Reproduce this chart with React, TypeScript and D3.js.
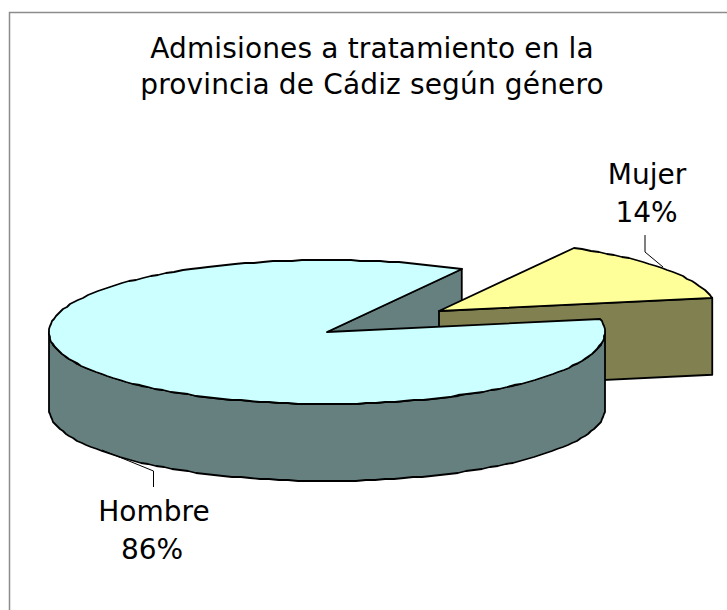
import React from "react";
import * as d3 from "d3";

const categories = ["Mujer", "Hombre"];
const shares = [14, 86];
const labels = ["14%", "86%"];
const topColors = ["#FFFF99", "#CCFFFF"];
const sideColors = ["#808050", "#668080"];
const titleLines = ["Admisiones a tratamiento en la", "provincia de Cádiz según género"];

const W = 727, H = 610;
const RX = 278, RY = 72, DEPTH = 77;
const centers = [{ x: 439, y: 311 }, { x: 327, y: 332 }];

// d3.pie angles: 0 at 12 o'clock, clockwise. Mujer starts at ~29deg.
const pieGen = d3.pie<number>().sort(null).startAngle((29 * Math.PI) / 180).endAngle((389 * Math.PI) / 180);
const arcs = pieGen(shares);

const pt = (c: { x: number; y: number }, a: number, dy = 0): [number, number] => [
  c.x + RX * Math.sin(a),
  c.y - RY * Math.cos(a) + dy,
];
const line = d3.line();
const sample = (c: { x: number; y: number }, a0: number, a1: number, dy = 0, step = 0.035) => {
  const n = Math.max(1, Math.round(Math.abs(a1 - a0) / step));
  return d3.range(n + 1).map((i) => {
    const p = pt(c, a0 + ((a1 - a0) * i) / n, dy);
    return [Math.round(p[0]), Math.round(p[1])] as [number, number];
  });
};

export default function App() {
  const m = arcs[0], h = arcs[1];
  const cm = centers[0], ch = centers[1];
  const c0: [number, number] = [cm.x, cm.y];
  const c1: [number, number] = [ch.x, ch.y];
  const mTop = [c0, ...sample(cm, m.startAngle, m.endAngle)];
  const mEnd = pt(cm, m.endAngle);
  const mFront: [number, number][] = [c0, mEnd, [mEnd[0], mEnd[1] + DEPTH], [c0[0], c0[1] + DEPTH]];
  const hStart = pt(ch, h.endAngle);
  const backWall: [number, number][] = [c1, hStart, [hStart[0], hStart[1] + DEPTH], [c1[0], c1[1] + DEPTH]];
  const hTop = [c1, ...sample(ch, h.startAngle, h.endAngle)];
  const a0 = Math.PI / 2, a1 = (3 * Math.PI) / 2;
  const hSide = [...sample(ch, a0, a1), ...sample(ch, a1, a0, DEPTH)];
  const stroke = { stroke: "#000", strokeWidth: 1.8, strokeLinejoin: "round" as const };
  return (
    <svg width={W} height={H} style={{ position: "absolute", left: 0, top: 0 }} fontFamily="'DejaVu Sans', Verdana, sans-serif">
      <rect x={0} y={0} width={W} height={H} fill="#fff" />
      <path d={`M9.5,${H}V12.5H${W}`} fill="none" stroke="#8c8c8c" strokeWidth={1.5} />
      {titleLines.map((t, i) => (
        <text key={t} x={372} y={58 + i * 35.5} textAnchor="middle" fontSize={28} letterSpacing={0.15} fill="#000">{t}</text>
      ))}
      <path d={line(backWall)! + "Z"} fill={sideColors[1]} {...stroke} />
      <path d={line(mFront)! + "Z"} fill={sideColors[0]} {...stroke} />
      <path d={line(mTop)! + "Z"} fill={topColors[0]} {...stroke} />
      <path d={line(hSide)! + "Z"} fill={sideColors[1]} {...stroke} />
      <path d={line(hTop)! + "Z"} fill={topColors[1]} {...stroke} />
      <path d="M645,235V252L663,267" fill="none" stroke="#000" strokeWidth={1} />
      <path d="M102,450L153.5,471V487" fill="none" stroke="#000" strokeWidth={1} />
      <text x={647} y={184} textAnchor="middle" fontSize={28}>{categories[0]}</text>
      <text x={646.5} y={222} textAnchor="middle" fontSize={28}>{labels[0]}</text>
      <text x={154} y={521} textAnchor="middle" fontSize={28}>{categories[1]}</text>
      <text x={152} y={559} textAnchor="middle" fontSize={28}>{labels[1]}</text>
    </svg>
  );
}
